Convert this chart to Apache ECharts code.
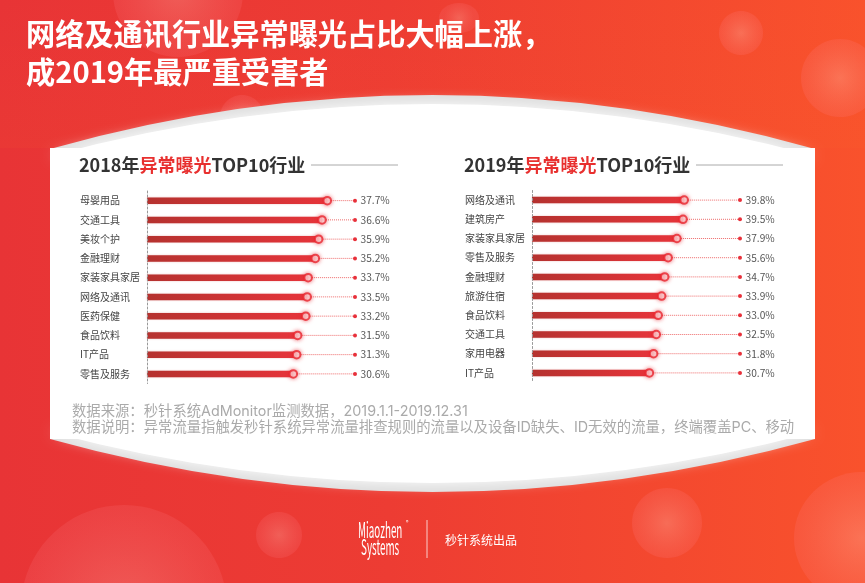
<!DOCTYPE html>
<html>
<head>
<meta charset="utf-8">
<style>
    html, body { margin: 0; padding: 0; background: #fff; }
    #content { width: 865px; height: 583px; }
</style>
<script src="https://cdn.jsdelivr.net/npm/echarts@6/dist/echarts.min.js"></script>
</head>
<body>
<div id="content"></div>
<script>
var categories2018 = ['母婴用品', '交通工具', '美妆个护', '金融理财', '家装家具家居', '网络及通讯', '医药保健', '食品饮料', 'IT产品', '零售及服务'];
var values2018 = [37.7, 36.6, 35.9, 35.2, 33.7, 33.5, 33.2, 31.5, 31.3, 30.6];
var categories2019 = ['网络及通讯', '建筑房产', '家装家具家居', '零售及服务', '金融理财', '旅游住宿', '食品饮料', '交通工具', '家用电器', 'IT产品'];
var values2019 = [39.8, 39.5, 37.9, 35.6, 34.7, 33.9, 33.0, 32.5, 31.8, 30.7];

var headline = ['网络及通讯行业异常曝光占比大幅上涨，', '成2019年最严重受害者'];
var notes = [
    '数据来源：秒针系统AdMonitor监测数据，2019.1.1-2019.12.31',
    '数据说明：异常流量指触发秒针系统异常流量排查规则的流量以及设备ID缺失、ID无效的流量，终端覆盖PC、移动'
];

var FONT = '"Noto Sans CJK SC", "Noto Sans", sans-serif';
var NOTE_FONT = 'Inter, "Noto Sans CJK SC", sans-serif';
var chart = echarts.init(document.getElementById('content'));

function bubble(cx, cy, rx, ry, strength) {
    return {
        type: 'ellipse',
        z: -5,
        silent: true,
        shape: {cx: cx, cy: cy, rx: rx, ry: ry},
        style: {
            fill: new echarts.graphic.RadialGradient(0.5, 0.5, 0.5, [
                {offset: 0, color: 'rgba(255,190,180,' + strength + ')'},
                {offset: 1, color: 'rgba(255,130,140,' + (strength * 0.55) + ')'}
            ])
        }
    };
}

// filled quadratic cap of the white card, closed along its chord
function arc(x1, x2, y, cpy, fill, blur) {
    return {
        type: 'bezierCurve',
        z: -3,
        silent: true,
        shape: {x1: x1, y1: y, x2: x2, y2: y, cpx1: (x1 + x2) / 2, cpy1: cpy},
        style: {fill: fill, stroke: null, shadowBlur: blur || 0, shadowColor: fill}
    };
}

function heading(x, year) {
    return {
        type: 'text',
        z: 5,
        x: x,
        y: 165,
        style: {
            text: '{d|' + year + '年}{r|异常曝光}{d|TOP10行业}',
            verticalAlign: 'middle',
            rich: {
                d: {fontFamily: FONT, fontSize: 18, fontWeight: 'bold', fill: '#333', color: '#333'},
                r: {fontFamily: FONT, fontSize: 18, fontWeight: 'bold', fill: '#e8302f', color: '#e8302f'}
            }
        }
    };
}

function rule(x1, x2, y1, y2, color) {
    return {
        type: 'line',
        z: 5,
        silent: true,
        shape: {x1: x1, y1: y1, x2: x2, y2: y2},
        style: {stroke: color, lineWidth: 1}
    };
}

function plainText(x, y, text, size, color, family, extra) {
    var el = {
        type: 'text',
        z: 5,
        x: x,
        y: y,
        style: {text: text, fontFamily: family, fontSize: size, fill: color, verticalAlign: 'middle'}
    };
    if (extra) {
        for (var k in extra) {
            el[k] = extra[k];
        }
    }
    return el;
}

// dotted leader, end dot and value text of one row
function renderLeader(params, api) {
    var value = api.value(0);
    var start = api.coord([value, api.value(1)]);
    var endX = params.coordSys.x + params.coordSys.width;
    return {
        type: 'group',
        children: [
            {
                type: 'line',
                shape: {x1: start[0], y1: start[1], x2: endX, y2: start[1]},
                style: {stroke: '#ee6a6a', lineWidth: 1, lineDash: [1, 1]}
            },
            {
                type: 'circle',
                shape: {cx: endX, cy: start[1], r: 2},
                style: {fill: '#e8303a'}
            },
            {
                type: 'text',
                x: endX + 5.5,
                y: start[1],
                style: {
                    text: value.toFixed(1) + '%',
                    fontFamily: FONT,
                    fontSize: 10.2,
                    fill: '#555',
                    verticalAlign: 'middle'
                }
            }
        ]
    };
}

function yAxisFor(categories, gridIndex) {
    return {
        type: 'category',
        gridIndex: gridIndex,
        inverse: true,
        data: categories,
        offset: 2,
        z: 3,
        axisTick: {show: false},
        axisLine: {lineStyle: {color: '#999', type: [2, 2], width: 1}},
        axisLabel: {
            align: 'left',
            margin: 65,
            fontFamily: FONT,
            fontSize: 10,
            color: '#444'
        }
    };
}

function xAxisFor(max, gridIndex) {
    return {type: 'value', gridIndex: gridIndex, min: 0, max: max, show: false};
}

function seriesFor(values, axisIndex) {
    return [
        {
            type: 'bar',
            xAxisIndex: axisIndex,
            yAxisIndex: axisIndex,
            data: values,
            barWidth: 6.5,
            silent: true,
            itemStyle: {
                color: new echarts.graphic.LinearGradient(0, 0, 1, 0, [
                    {offset: 0, color: '#b5322f'},
                    {offset: 1, color: '#e6343a'}
                ]),
                shadowColor: 'rgba(200,60,60,0.35)',
                shadowBlur: 2
            }
        },
        {
            type: 'custom',
            xAxisIndex: axisIndex,
            yAxisIndex: axisIndex,
            silent: true,
            z: 3,
            renderItem: renderLeader,
            encode: {x: 0, y: 1},
            data: values.map(function (v, i) {
                return [v, i];
            })
        },
        {
            type: 'scatter',
            xAxisIndex: axisIndex,
            yAxisIndex: axisIndex,
            silent: true,
            z: 4,
            symbolSize: 7.5,
            itemStyle: {
                color: '#fff',
                borderColor: '#e8262e',
                borderWidth: 2,
                shadowColor: 'rgba(232,38,46,0.7)',
                shadowBlur: 4
            },
            data: values.map(function (v, i) {
                return [v, i];
            })
        }
    ];
}

var options = {
    animation: false,
    backgroundColor: new echarts.graphic.LinearGradient(0, 0, 1, 0, [
        {offset: 0, color: '#e83436'},
        {offset: 0.45, color: '#ed3c33'},
        {offset: 1, color: '#f9522c'}
    ]),
    title: [
        {
            text: headline[0],
            left: 21,
            top: 14,
            textStyle: {fontFamily: FONT, fontSize: 29.2, fontWeight: 'bold', color: '#fff'}
        },
        {
            text: headline[1],
            left: 21,
            top: 52,
            textStyle: {fontFamily: FONT, fontSize: 29.2, fontWeight: 'bold', color: '#fff'}
        }
    ],
    grid: [
        {left: 147, top: 191, width: 208, height: 192.5},
        {left: 532, top: 190.5, width: 208, height: 192}
    ],
    xAxis: [xAxisFor(43.5, 0), xAxisFor(54.4, 1)],
    yAxis: [yAxisFor(categories2018, 0), yAxisFor(categories2019, 1)],
    series: seriesFor(values2018, 0).concat(seriesFor(values2019, 1)),
    graphic: {
        elements: [
            {
                type: 'rect',
                z: -6,
                silent: true,
                shape: {x: 0, y: 0, width: 865, height: 148},
                style: {
                    fill: new echarts.graphic.LinearGradient(0, 0, 0, 1, [
                        {offset: 0, color: 'rgba(255,110,40,0)'},
                        {offset: 1, color: 'rgba(255,110,40,0.07)'}
                    ])
                }
            },
            bubble(178, -8, 65, 65, 0.28),
            bubble(459, 18, 20, 15, 0.28),
            bubble(741, 33, 22, 22, 0.3),
            bubble(840, 78, 39, 39, 0.3),
            bubble(242, 117, 22, 22, 0.28),
            bubble(124, 608, 103, 103, 0.28),
            bubble(279, 535, 23, 23, 0.28),
            bubble(667, 523, 35, 35, 0.3),
            bubble(862, 538, 68, 66, 0.3),
            arc(50, 815, 149, 41, '#dedede'),
            arc(50, 815, 439, 545, '#dedede'),
            arc(50, 815, 156, 52, '#ffffff', 14),
            arc(50, 815, 432, 534, '#ffffff', 14),
            {
                type: 'rect',
                z: -2,
                silent: true,
                shape: {x: 50, y: 148, width: 765, height: 291},
                style: {fill: '#fff'}
            },
            heading(79, '2018'),
            heading(464, '2019'),
            rule(311, 398, 165, 165, '#aaa'),
            rule(696, 783, 165, 165, '#aaa'),
            plainText(72, 412, notes[0], 14.35, '#aaa', NOTE_FONT),
            plainText(72, 428, notes[1], 14.35, '#aaa', NOTE_FONT),
            plainText(358, 530, 'Miaozhen', 21, '#fff', FONT, {scaleX: 0.47}),
            plainText(406, 522, '®', 5, '#fff', FONT),
            plainText(361, 547, 'Systems', 21, '#fff', FONT, {scaleX: 0.47}),
            rule(427, 427, 520, 558, 'rgba(255,255,255,0.75)'),
            plainText(445, 540, '秒针系统出品', 12, '#fff', FONT)
        ]
    }
};
chart.setOption(options);
</script>
</body>
</html>
